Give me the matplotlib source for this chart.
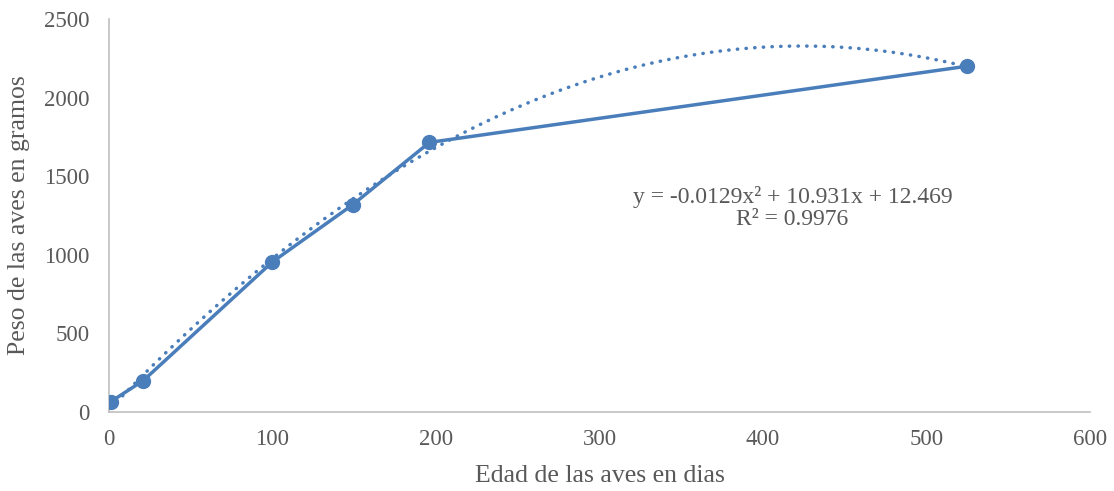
import matplotlib
matplotlib.use("Agg")
import matplotlib.pyplot as plt
import numpy as np

edad = [1, 21, 100, 149, 196, 525]
peso = [65, 200, 955, 1318, 1715, 2200]
coef = [-0.0129, 10.931, 12.469]
eq_text = "y = -0.0129x² + 10.931x + 12.469\nR² = 0.9976"

plt.rcParams['font.family'] = ['Liberation Serif', 'DejaVu Serif']
color = '#4A7EBB'
grey = '#595959'

fig = plt.figure(figsize=(11.14, 4.91), dpi=100)
ax = fig.add_axes([0.0978, 0.1609, 0.8807, 0.8004])

xt = np.linspace(min(edad), max(edad), 300)
yt = np.polyval(coef, xt)
ax.plot(xt, yt, color=color, lw=2.5, linestyle=(0, (0.1, 2.4)), dash_capstyle='round')
ax.plot(edad, peso, color=color, lw=2.5, marker='o', markersize=10, zorder=3)

ax.set_xlim(0, 600)
ax.set_ylim(0, 2500)
ax.set_xticks(range(0, 601, 100))
ax.set_yticks(range(0, 2501, 500))
for s in ['top', 'right']:
    ax.spines[s].set_visible(False)
for s in ['left', 'bottom']:
    ax.spines[s].set_color('#BFBFBF')
    ax.spines[s].set_linewidth(1.2)
ax.tick_params(length=0, labelsize=16.5, colors=grey)
ax.tick_params(axis='y', pad=14)
ax.tick_params(axis='x', pad=12)
ax.set_xlabel('Edad de las aves en dias', fontsize=18.5, color=grey, labelpad=11)
ax.set_ylabel('Peso de las aves en gramos', fontsize=18.5, color=grey, labelpad=10)

ax.text(418, 1160, eq_text, fontsize=17, color=grey, ha='center', va='bottom', linespacing=1.05)

fig.savefig('out.png', dpi=100)
